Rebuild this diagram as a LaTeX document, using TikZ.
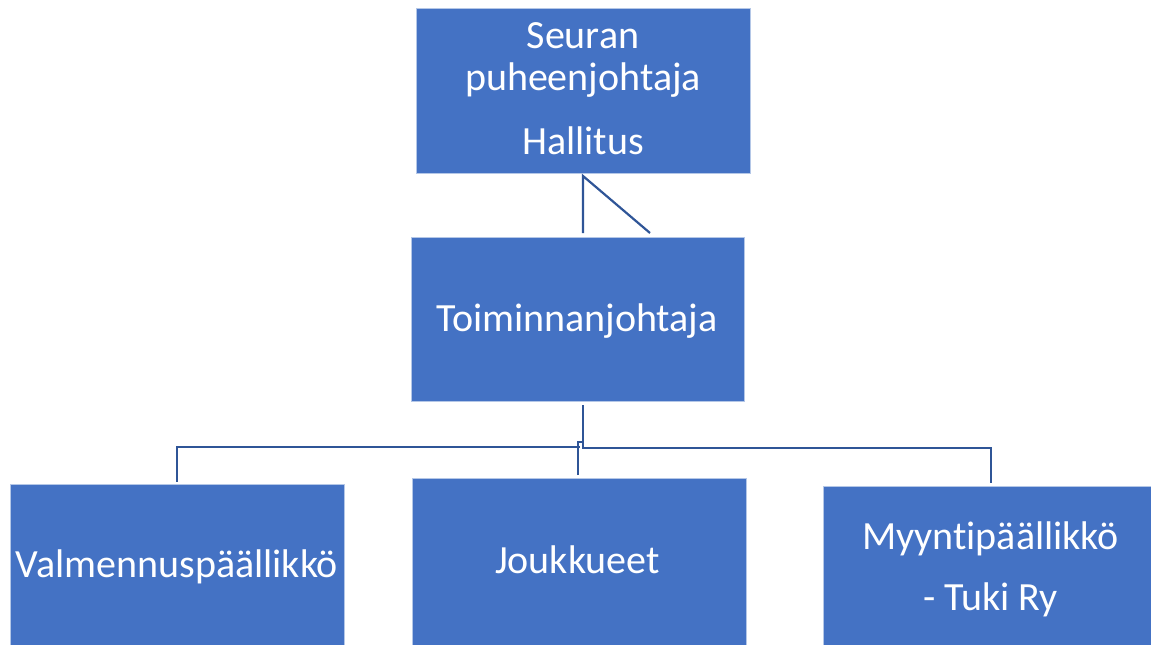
\documentclass[tikz,border=0pt]{standalone}
\usepackage{fontspec}
\setmainfont{Carlito}[Ligatures={NoCommon}]
\definecolor{boxblue}{HTML}{4472C4}
\definecolor{boxedge}{HTML}{B4C7E7}
\definecolor{linkblue}{HTML}{2F5597}
\begin{document}
\begin{tikzpicture}[x=1pt,y=-1pt,
  orgbox/.style={rectangle, fill=boxblue, draw=boxedge, line width=0.8pt,
    minimum width=334pt, inner sep=0pt},
  boxtext/.style={anchor=base, inner sep=0pt, text=white,
    font=\fontsize{40pt}{40pt}\selectfont},
  link/.style={draw=linkblue, line width=2.2pt}]
\useasboundingbox (0,0) rectangle (1151,645);
\clip (0,0) rectangle (1151,645);
% boxes
\node[orgbox, minimum height=165pt] (top) at (583,90.5) {};
\node[orgbox, minimum width=333pt, minimum height=164pt] (mid) at (577.5,319) {};
\node[orgbox, minimum height=161pt] (left) at (177,564.5) {};
\node[orgbox, minimum height=167pt] (center) at (579,561.5) {};
\node[orgbox, minimum height=159pt] (right) at (990,565.5) {};
% texts
\node[boxtext] (t-seuran) at (583,48) {Seuran};
\node[boxtext] (t-puh) at (583,90) {puheenjohtaja};
\node[boxtext] (t-hall) at (583,154) {Hallitus};
\node[boxtext] (t-toim) at (577,331) {Toiminnanjohtaja};
\node[boxtext] (t-valm) at (177,577) {Valmennuspäällikkö};
\node[boxtext] (t-jouk) at (577.5,573) {Joukkueet};
\node[boxtext] (t-myy) at (990.5,549) {Myyntipäällikkö};
\node[boxtext] (t-tuki) at (990.5,610) {- Tuki Ry};
% connectors
\coordinate (t1) at (583,176);
\coordinate (m1) at (583,233);
\coordinate (m2) at (650,233);
\draw[link] (m1) -- (t1) -- (m2);
\coordinate (a) at (583,405);
\coordinate (b) at (583,448);
\coordinate (c) at (991,448);
\coordinate (d) at (991,483);
\draw[link] (a) -- (b) -- (c) -- (d);
\coordinate (e) at (580,447);
\coordinate (f) at (177,447);
\coordinate (g) at (177,482);
\draw[link] (e) -- (f) -- (g);
\coordinate (h) at (578,475);
\coordinate (i) at (578,442);
\coordinate (j) at (583,442);
\draw[link] (h) -- (i) -- (j);
\end{tikzpicture}
\end{document}
